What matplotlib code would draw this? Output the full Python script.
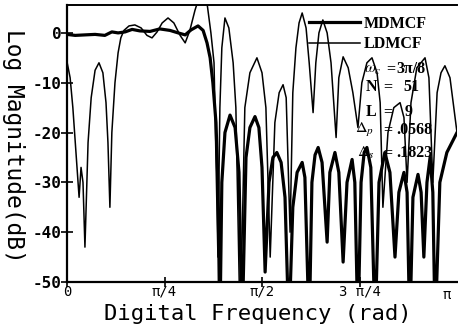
import numpy as np
import matplotlib
matplotlib.use("Agg")
import matplotlib.pyplot as plt

# ---- data (frequency in units of pi, magnitude in dB) ----
ld_freq = [0.000, 0.008, 0.015, 0.023, 0.031, 0.036, 0.041, 0.046, 0.054, 0.062,
           0.072, 0.082, 0.092, 0.100, 0.105, 0.110, 0.115, 0.123, 0.131, 0.138,
           0.146, 0.159, 0.174, 0.190, 0.205, 0.218, 0.231, 0.244, 0.259, 0.274,
           0.290, 0.303, 0.315, 0.328, 0.338, 0.349, 0.359, 0.369, 0.377, 0.387,
           0.392, 0.397, 0.405, 0.415, 0.426, 0.433, 0.444, 0.456, 0.469, 0.487,
           0.500, 0.510, 0.521, 0.533, 0.544, 0.554, 0.562, 0.572, 0.579, 0.587,
           0.595, 0.603, 0.613, 0.621, 0.631, 0.638, 0.646, 0.656, 0.667, 0.677,
           0.690, 0.697, 0.708, 0.721, 0.733, 0.746, 0.756, 0.769, 0.782, 0.795,
           0.803, 0.810, 0.823, 0.838, 0.854, 0.864, 0.872, 0.882, 0.897, 0.918,
           0.928, 0.938, 0.949, 0.959, 0.969, 0.982, 1.000]
ld_db = [-5.8, -9, -15, -24, -33, -27, -30, -43, -22, -13,
         -7.5, -6, -8, -14, -22, -35, -20, -10, -4, -1,
         0.5, 1.4, 1.6, 1, -0.5, -1, 0.2, 2, 3, 2,
         -0.5, -2, 0.5, 4.5, 7, 8, 6, 0, -6, -45,
         -15, -3, 3, 1, -6, -15, -60, -15, -8, -5,
         -8, -15, -45, -18, -12, -10.4, -13, -40, -12, -3,
         2, 4, 1, -6, -16, -6, 0, 2.6, 0, -6,
         -21, -9, -4.8, -7, -12, -19, -10, -6, -5, -8,
         -14, -35, -20, -15, -14, -17, -30, -14, -7, -5,
         -9, -30, -12, -8, -6.6, -9, -20]

md_freq = [0.000, 0.021, 0.046, 0.072, 0.097, 0.115, 0.131, 0.149, 0.167, 0.187,
           0.213, 0.238, 0.264, 0.285, 0.303, 0.318, 0.336, 0.349, 0.359, 0.367,
           0.374, 0.382, 0.387, 0.392, 0.397, 0.405, 0.418, 0.431, 0.441, 0.449,
           0.459, 0.469, 0.482, 0.492, 0.500, 0.508, 0.518, 0.528, 0.538, 0.549,
           0.559, 0.569, 0.579, 0.590, 0.603, 0.610, 0.621, 0.628, 0.636, 0.644,
           0.654, 0.667, 0.674, 0.687, 0.697, 0.708, 0.718, 0.731, 0.738, 0.746,
           0.754, 0.762, 0.769, 0.779, 0.790, 0.800, 0.815, 0.828, 0.841, 0.851,
           0.864, 0.872, 0.879, 0.887, 0.900, 0.908, 0.915, 0.923, 0.931, 0.938,
           0.944, 0.956, 0.974, 1.000]
md_db = [-0.3, -0.5, -0.4, -0.3, -0.5, 0.2, 0, 0.2, 0.7, 0.4,
         0.3, 0.8, 0.5, 0, -0.4, 0.6, 1.4, 0.5, -2, -5,
         -10, -18, -30, -60, -30, -20, -16.5, -19, -28, -60,
         -25, -19, -16.8, -19, -27, -48, -30, -25, -24, -26,
         -33, -60, -35, -28, -26, -29, -60, -30, -24.5, -23,
         -26, -42, -28, -24, -28, -46, -30, -25.4, -30, -60,
         -30, -24, -23, -27, -60, -30, -24, -28, -45, -32,
         -28, -32, -60, -33, -28.4, -32, -45, -30, -25, -32,
         -60, -30, -24, -20]

series_labels = ["MDMCF", "LDMCF"]
yticks = [0, -10, -20, -30, -40, -50]
ytick_labels = ["0", "-10", "-20", "-30", "-40", "-50"]
xticks_pi = [0, 0.25, 0.5, 0.75]
xtick_labels = ["0", "π/4", "π/2", "3 π/4"]
params = [(r"$\omega_c$", "3π/8"), ("N", "51"), ("L", "9"),
          (r"$\Delta_p$", ".0568"), (r"$\Delta_s$", ".1823")]

# ---- figure ----
W, H = 458, 326
plt.rcParams['mathtext.fontset'] = 'stix'
fig = plt.figure(figsize=(W / 100, H / 100), dpi=100)
ax = fig.add_axes([67 / W, 1 - 282 / H, (457 - 67) / W, (282 - 5) / H])

def px(x, y):
    return x / W, 1 - y / H

mono = 'DejaVu Sans Mono'
serif = 'Liberation Serif'

l1, = ax.plot(np.array(md_freq) * np.pi, md_db, color='black', lw=2.3,
              solid_joinstyle='round')
l2, = ax.plot(np.array(ld_freq) * np.pi, ld_db, color='black', lw=1.1,
              solid_joinstyle='round')

ax.set_xlim(0, np.pi)
ax.set_ylim(-50, 5.6)
ax.spines['right'].set_visible(False)
ax.spines['left'].set_linewidth(1.6)
ax.spines['bottom'].set_linewidth(1.6)
ax.spines['top'].set_linewidth(1.4)

ax.set_yticks(yticks)
ax.set_yticklabels(ytick_labels, fontfamily=mono, fontweight='bold', fontsize=11.5)
ax.set_xticks(np.array(xticks_pi) * np.pi)
ax.set_xticklabels(xtick_labels, fontfamily=mono, fontsize=10)
ax.tick_params(axis='y', direction='inout', length=8, width=1.2, pad=0)
ax.tick_params(axis='x', direction='inout', length=7, width=1.2, pad=-1.5)
ax.text((447 - 67) / 390, -0.02, "π", transform=ax.transAxes, ha='center',
        va='top', fontfamily=mono, fontsize=10)

fig.text(*px(258, 320), "Digital Frequency (rad)", ha='center', va='baseline',
         fontfamily=mono, fontsize=16)
fig.text(*px(13, 146), "Log Magnitude(dB)", ha='center', va='center',
         rotation=-90, fontfamily=mono, fontsize=16.5)

leg = ax.legend([l1, l2], series_labels, loc='upper left',
                bbox_to_anchor=px(309, 16), bbox_transform=fig.transFigure,
                frameon=False, borderpad=0, borderaxespad=0, handlelength=3.2,
                handletextpad=0.25, labelspacing=0.28,
                prop={'family': serif, 'weight': 'bold', 'size': 11.5})

rows_y = [69, 87, 112, 130, 153]
name_x = [364, 366, 366, 355, 357]
eq_x = [386, 383, 383, 383, 383]
val_x = [396, 403, 405, 396, 396]
for (name, val), yy, nx, ex, vx in zip(params, rows_y, name_x, eq_x, val_x):
    fig.text(*px(nx, yy), name, ha='left', va='center', fontfamily=serif,
             fontweight='bold', fontsize=11.5)
    fig.text(*px(ex, yy), "=", ha='left', va='center', fontfamily=serif,
             fontweight='bold', fontsize=11.5)
    fig.text(*px(vx, yy), val, ha='left', va='center', fontfamily=serif,
             fontweight='bold', fontsize=11.5)

fig.savefig("out.png", dpi=100)
